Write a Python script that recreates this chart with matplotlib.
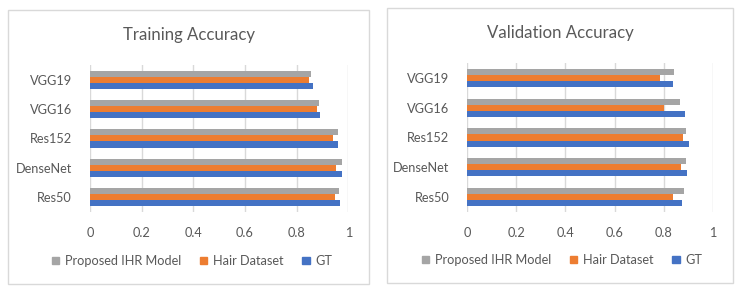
import matplotlib
matplotlib.use("Agg")
import matplotlib.pyplot as plt
from matplotlib.patches import Rectangle
import numpy as np

plt.rcParams['font.family'] = ['Lato', 'DejaVu Sans']

categories = ["Res50", "DenseNet", "Res152", "VGG16", "VGG19"]
series_names = ["GT", "Hair Dataset", "Proposed IHR Model"]
colors = ["#4472C4", "#ED7D31", "#A5A5A5"]

train_gt = [0.969, 0.977, 0.961, 0.892, 0.862]
train_hair = [0.947, 0.951, 0.941, 0.877, 0.849]
train_ihr = [0.965, 0.974, 0.959, 0.886, 0.854]

val_gt = [0.875, 0.897, 0.904, 0.887, 0.837]
val_hair = [0.840, 0.871, 0.880, 0.800, 0.785]
val_ihr = [0.884, 0.891, 0.890, 0.865, 0.844]

xticks = [0, 0.2, 0.4, 0.6, 0.8, 1]
xticklabels = ["0", "0.2", "0.4", "0.6", "0.8", "1"]

W, H = 743, 294
fig = plt.figure(figsize=(W / 100, H / 100), dpi=100)
TXT = "#595959"
GRID = "#D9D9D9"
FS = 9.2


def px_axes(x0, y0, x1, y1):
    return fig.add_axes([x0 / W, 1 - y1 / H, (x1 - x0) / W, (y1 - y0) / H])


def panel(x0, y0, x1, y1):
    fig.patches.append(Rectangle((x0 / W, 1 - y1 / H), (x1 - x0) / W, (y1 - y0) / H,
                                 transform=fig.transFigure, fill=False,
                                 edgecolor="#D9D9D9", lw=1.0))


def draw(ax, data, title, title_xy, legend_xy):
    n = len(categories)
    y = np.arange(n)
    bh = 0.208
    for i, (vals, c) in enumerate(zip(data, colors)):
        ax.barh(y + (i - 1) * bh, vals, height=bh, color=c, zorder=3)
    ax.set_xlim(0, 1)
    ax.set_ylim(-0.5, n - 0.5)
    ax.set_xticks(xticks)
    ax.set_xticklabels(xticklabels)
    ax.set_yticks(y)
    ax.set_yticklabels(categories)
    ax.grid(axis="x", color=GRID, lw=1, zorder=0)
    for s in ax.spines.values():
        s.set_visible(False)
    ax.tick_params(length=0, labelcolor=TXT, labelsize=FS)
    ax.tick_params(axis="y", pad=13)
    ax.tick_params(axis="x", pad=11)
    fig.text(title_xy[0] / W, 1 - title_xy[1] / H, title, ha="center", va="center",
             fontsize=12.1, color=TXT)
    handles = [Rectangle((0, 0), 1, 1, color=colors[i]) for i in [2, 1, 0]]
    labels = [series_names[i] for i in [2, 1, 0]]
    fig.legend(handles, labels, loc="center", bbox_to_anchor=(legend_xy[0] / W, 1 - legend_xy[1] / H),
               ncol=3, frameon=False, fontsize=FS, labelcolor=TXT,
               handlelength=0.55, handleheight=0.55, handletextpad=0.45, columnspacing=1.5)


panel(8, 10, 369, 284)
panel(387, 8, 733, 283)

ax1 = px_axes(90, 65, 348.3, 211.7)
draw(ax1, [train_gt, train_hair, train_ihr], "Training Accuracy", (189, 35), (192, 261))

ax2 = px_axes(467.3, 63.3, 712.7, 211.7)
draw(ax2, [val_gt, val_hair, val_ihr], "Validation Accuracy", (560, 33), (562, 260))

fig.savefig("out.png", dpi=100)
